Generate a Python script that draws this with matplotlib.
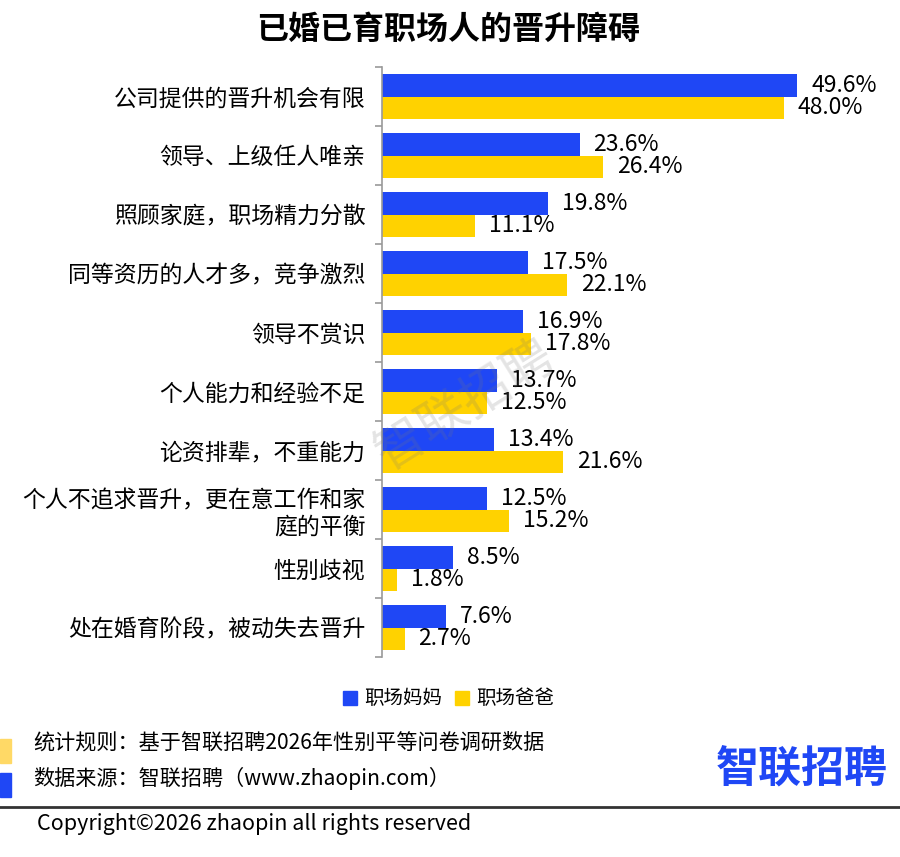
import matplotlib
matplotlib.use("Agg")
import matplotlib.pyplot as plt
import numpy as np

plt.rcParams['font.family'] = ['Noto Sans CJK SC', 'DejaVu Sans']

categories = [
    "公司提供的晋升机会有限",
    "领导、上级任人唯亲",
    "照顾家庭，职场精力分散",
    "同等资历的人才多，竞争激烈",
    "领导不赏识",
    "个人能力和经验不足",
    "论资排辈，不重能力",
    "个人不追求晋升，更在意工作和家\n庭的平衡",
    "性别歧视",
    "处在婚育阶段，被动失去晋升",
]
moms = [49.6, 23.6, 19.8, 17.5, 16.9, 13.7, 13.4, 12.5, 8.5, 7.6]
dads = [48.0, 26.4, 11.1, 22.1, 17.8, 12.5, 21.6, 15.2, 1.8, 2.7]
series_names = ["职场妈妈", "职场爸爸"]

BLUE = "#1F47F5"
YELLOW = "#FFD200"

W, H = 900, 857
fig = plt.figure(figsize=(W / 100, H / 100), dpi=100)

# main axes in pixel terms
left, right, top, bottom = 382, 900, 67, 657
ax = fig.add_axes([left / W, 1 - bottom / H, (right - left) / W, (bottom - top) / H])

y = np.arange(len(categories))
bh = 0.375
ax.barh(y - bh / 2, moms, height=bh, color=BLUE, zorder=2)
ax.barh(y + bh / 2, dads, height=bh, color=YELLOW, zorder=2)

for i in range(len(categories)):
    ax.annotate(f"{moms[i]:.1f}%", (moms[i], y[i] - bh / 2), xytext=(10, 0),
                textcoords="offset points", va="center", ha="left", fontsize=16.5)
    ax.annotate(f"{dads[i]:.1f}%", (dads[i], y[i] + bh / 2), xytext=(10, 0),
                textcoords="offset points", va="center", ha="left", fontsize=16.5)

ax.set_xlim(0, (right - left) / 8.37)
ax.set_ylim(len(categories) - 0.5, -0.5)

ax.set_yticks(y)
ax.set_yticklabels(categories, fontsize=16.5, multialignment="right")
ax.tick_params(axis="y", which="major", length=0, pad=12)
ax.set_yticks(np.arange(-0.5, len(categories)), minor=True)
ax.tick_params(axis="y", which="minor", length=5, color="#999999", width=1.2)
ax.set_xticks([])
for s in ["top", "right", "bottom"]:
    ax.spines[s].set_visible(False)
ax.spines["left"].set_color("#999999")
ax.spines["left"].set_linewidth(1.2)

# watermark
fig.text(465 / W, 1 - 405 / H, "智联招聘", fontsize=36, fontweight="medium", color="#777777",
         alpha=0.2, rotation=32, ha="center", va="center", zorder=5)

# title
fig.text(448 / W, 1 - 30 / H, "已婚已育职场人的晋升障碍", fontsize=23, fontweight="black",
         ha="center", va="center")

# legend
fig.patches.append(plt.Rectangle((343 / W, 1 - 705 / H), 14 / W, 14 / H,
                                 transform=fig.transFigure, color=BLUE))
fig.text(364 / W, 1 - 698 / H, series_names[0], fontsize=14, va="center", ha="left")
fig.patches.append(plt.Rectangle((455 / W, 1 - 705 / H), 14 / W, 14 / H,
                                 transform=fig.transFigure, color=YELLOW))
fig.text(476 / W, 1 - 698 / H, series_names[1], fontsize=14, va="center", ha="left")

# footer
fig.patches.append(plt.Rectangle((0, 1 - 763 / H), 11 / W, 24 / H,
                                 transform=fig.transFigure, color="#FFD966"))
fig.patches.append(plt.Rectangle((0, 1 - 797 / H), 11 / W, 24 / H,
                                 transform=fig.transFigure, color=BLUE))
fig.text(33 / W, 1 - 743 / H, "统计规则：基于智联招聘2026年性别平等问卷调研数据", fontsize=15.2,
         va="center", ha="left")
fig.text(33 / W, 1 - 778 / H, "数据来源：智联招聘（www.zhaopin.com）", fontsize=15.2,
         va="center", ha="left")
fig.text(888 / W, 1 - 770 / H, "智联招聘", fontsize=31, fontweight="black", color=BLUE,
         va="center", ha="right")
fig.lines.append(plt.Line2D([0, 1], [1 - 807 / H] * 2, transform=fig.transFigure,
                            color="#333333", linewidth=2))
fig.text(37 / W, 1 - 824 / H, "Copyright©2026 zhaopin all rights reserved", fontsize=15.5,
         va="center", ha="left")

fig.savefig("out.png", dpi=100)
